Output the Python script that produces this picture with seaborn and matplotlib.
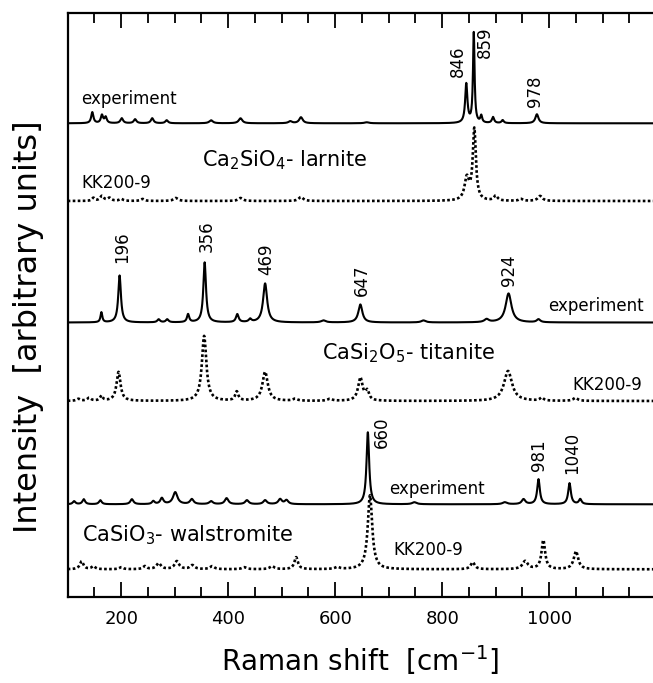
import numpy as np
import pandas as pd
import matplotlib
matplotlib.use("Agg")
import matplotlib.pyplot as plt
import seaborn as sns

# ---------------- data ----------------
# Each spectrum: peak centres [cm-1], peak heights [a.u.], peak widths FWHM [cm-1]
lar_exp_c = [146, 164, 171, 201, 226, 258, 285, 368, 423, 516, 536, 659, 845, 859, 873, 895, 913, 977]
lar_exp_h = [11, 8, 6, 5, 4, 5, 3, 3, 5, 2, 6, 1, 39, 90, 7, 6, 3, 9]
lar_exp_w = [5, 5, 5, 6, 6, 6, 6, 8, 8, 8, 8, 10, 5, 3.5, 4, 5, 5, 7]

lar_kk_c = [148, 164, 178, 200, 240, 302, 423, 536, 846, 860, 900, 947, 983]
lar_kk_h = [3, 5, 3, 2, 2, 3, 3, 4, 22, 71, 5, 2, 5]
lar_kk_w = [6, 8, 8, 8, 8, 10, 10, 10, 10, 7, 8, 8, 10]

tit_exp_c = [163, 197, 270, 286, 325, 356, 417, 441, 469, 578, 647, 765, 883, 924, 980]
tit_exp_h = [10, 47, 3, 3, 8, 60, 8, 3, 39, 2, 18, 2, 3, 29, 3]
tit_exp_w = [4, 6, 6, 6, 5, 6, 6, 6, 9, 10, 9, 10, 10, 13, 8]

tit_kk_c = [120, 140, 163, 195, 355, 416, 469, 525, 590, 647, 660, 923, 986, 1049]
tit_kk_h = [2, 3, 5, 29, 65, 9, 29, 2, 2, 23, 9, 30, 3, 3]
tit_kk_w = [8, 8, 6, 9, 10, 7, 12, 10, 10, 10, 8, 18, 8, 10]

wal_exp_c = [112, 130, 161, 220, 260, 276, 301, 332, 368, 397, 435, 469, 497, 509,
             661, 748, 917, 952, 980, 1038, 1058]
wal_exp_h = [3, 5, 4, 5, 3, 6, 12, 5, 3, 6, 4, 4, 5, 4, 72, 2, 2, 5, 25, 21, 5]
wal_exp_w = [6, 6, 6, 7, 6, 7, 10, 8, 8, 8, 8, 8, 8, 8, 6, 10, 10, 8, 6, 6, 6]

wal_kk_c = [126, 148, 200, 244, 270, 304, 333, 370, 430, 482, 527, 604, 665, 857, 955, 989, 1050]
wal_kk_h = [8, 3, 2, 3, 6, 8, 4, 3, 2, 3, 12, 2, 74, 7, 8, 29, 18]
wal_kk_w = [8, 8, 8, 8, 10, 10, 10, 10, 10, 10, 8, 10, 10, 9, 12, 8, 10]

peak_labels = ["846", "859", "978", "196", "356", "469", "647", "924", "660", "981", "1040"]

# ---------------- helpers ----------------
def spectrum(x, c, h, w):
    x = np.asarray(x)[:, None]
    c = np.asarray(c, float)[None, :]
    h = np.asarray(h, float)[None, :]
    g = np.asarray(w, float)[None, :] / 2.0
    return (h / (1.0 + ((x - c) / g) ** 2)).sum(axis=1)

shift = np.arange(100, 1195.5, 0.5)

fig = plt.figure(figsize=(6.53, 6.83), dpi=100)
ax = fig.add_axes([67.7 / 653, (683 - 597) / 683, (653 - 67.7) / 653, (597 - 12.5) / 683])

traces = [
    (lar_exp_c, lar_exp_h, lar_exp_w, 473.7, "-"),
    (lar_kk_c, lar_kk_h, lar_kk_w, 396.0, (0, (1.0, 0.9))),
    (tit_exp_c, tit_exp_h, tit_exp_w, 274.5, "-"),
    (tit_kk_c, tit_kk_h, tit_kk_w, 196.0, (0, (1.0, 0.9))),
    (wal_exp_c, wal_exp_h, wal_exp_w, 92.7, "-"),
    (wal_kk_c, wal_kk_h, wal_kk_w, 27.7, (0, (1.0, 0.9))),
]
for c, h, w, off, ls in traces:
    df = pd.DataFrame({"shift": shift, "intensity": spectrum(shift, c, h, w) + off})
    sns.lineplot(data=df, x="shift", y="intensity", ax=ax, color="black",
                 linewidth=1.5 if ls == "-" else 1.9, linestyle=ls,
                 estimator=None, sort=False)

ax.set_xlim(100, 1194)
ax.set_ylim(0, 584.5)

# peak labels (rotated)
lab_pos = [(829, 536), (880, 555), (974, 506), (202, 350), (360, 361), (472, 338),
           (650, 317), (924, 327), (687, 165), (980, 142), (1042, 144)]
for t, (px, py) in zip(peak_labels, lab_pos):
    ax.text(px, py, t, rotation=90, ha="center", va="center", fontsize=12)

# trace annotations
small = 12
ax.text(125.7, 493.5, "experiment", fontsize=small, va="baseline")
ax.text(125.7, 408.7, "KK200-9", fontsize=small, va="baseline")
ax.text(351, 431, "Ca$_2$SiO$_4$- larnite", fontsize=15, va="baseline")
ax.text(998.7, 286, "experiment", fontsize=small, va="baseline")
ax.text(575.7, 238, "CaSi$_2$O$_5$- titanite", fontsize=15, va="baseline")
ax.text(1042.4, 207.3, "KK200-9", fontsize=small, va="baseline")
ax.text(701.5, 103, "experiment", fontsize=small, va="baseline")
ax.text(126.4, 56, "CaSiO$_3$- walstromite", fontsize=15, va="baseline")
ax.text(708.8, 41.7, "KK200-9", fontsize=small, va="baseline")

# axes styling
ax.set_xticks([200, 400, 600, 800, 1000])
ax.set_xticks(np.arange(150, 1195, 50), minor=True)
ax.set_yticks([])
ax.tick_params(axis="x", which="both", direction="in", top=True, bottom=True,
               labelsize=13, pad=9, width=1.3, color="black")
ax.tick_params(axis="x", which="major", length=11)
ax.tick_params(axis="x", which="minor", length=7)
for s in ["left", "top", "bottom"]:
    ax.spines[s].set_linewidth(1.6)
ax.spines["right"].set_visible(False)

ax.set_xlabel("Raman shift  [cm$^{-1}$]", fontsize=20, labelpad=11)
ax.set_ylabel("Intensity  [arbitrary units]", fontsize=23)
ax.yaxis.set_label_coords(-0.04, 0.462)

fig.savefig("out.png", dpi=100)
